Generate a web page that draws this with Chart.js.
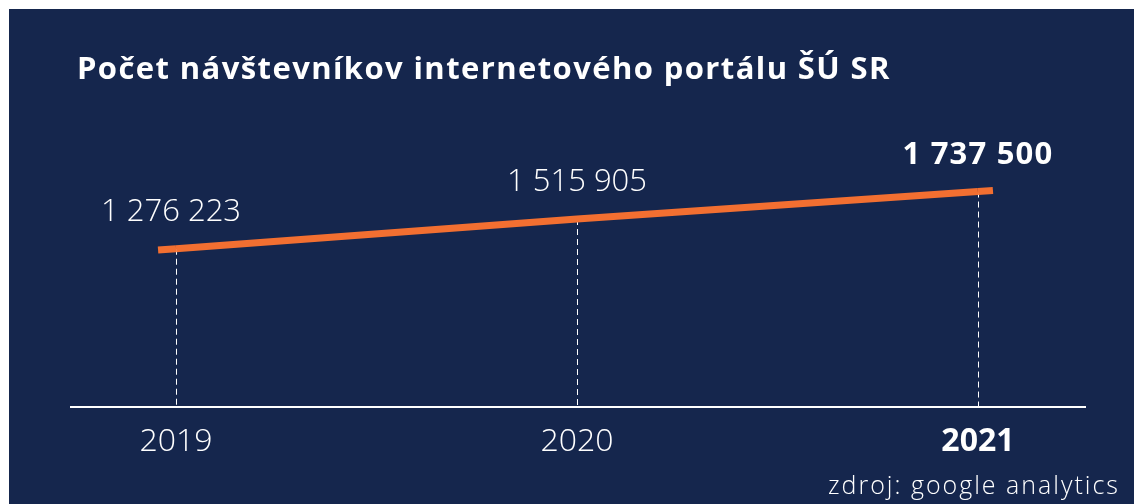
<!DOCTYPE html>
<html>
<head>
<meta charset="utf-8">
<script src="https://cdn.jsdelivr.net/npm/chart.js@4.4.1/dist/chart.umd.min.js"></script>
<style>
  html, body { margin: 0; padding: 0; background: #ffffff; }
  #panel { position: absolute; left: 9px; top: 9px; width: 1125px; height: 495px; background: #15264d; }
  canvas { display: block; }
</style>
</head>
<body>
<div id="panel"><canvas id="visitorsChart" width="1125" height="495"></canvas></div>
<script>
const years = [2019, 2020, 2021];
const visitors = [1276223, 1515905, 1737500];
const titleText = "Počet návštevníkov internetového portálu ŠÚ SR";
const sourceText = "zdroj: google analytics";

const family = "'Open Sans', 'DejaVu Sans', sans-serif";
const orange = "#f26f31";
const lastYear = years[years.length - 1];

// 1276223 -> "1 276 223"
const fmt = v => String(v).replace(/\B(?=(\d{3})+(?!\d))/g, " ");

const extras = {
  id: "extras",
  beforeDatasetsDraw(chart) {
    // dashed drop lines from each point down to the axis
    const ctx = chart.ctx;
    const pts = chart.getDatasetMeta(0).data;
    ctx.save();
    ctx.strokeStyle = "#ffffff";
    ctx.lineWidth = 1;
    ctx.setLineDash([6, 4]);
    pts.forEach(p => {
      const x = Math.round(p.x) + 0.5;
      ctx.beginPath();
      ctx.moveTo(x, p.y);
      ctx.lineTo(x, chart.chartArea.bottom);
      ctx.stroke();
    });
    ctx.restore();
  },
  afterDatasetsDraw(chart) {
    const ctx = chart.ctx;
    const pts = chart.getDatasetMeta(0).data;
    const n = pts.length;

    // the line runs a little past the first and last year
    ctx.save();
    ctx.strokeStyle = orange;
    ctx.lineWidth = 7;
    const ext = (a, b, len) => {
      const k = (b.y - a.y) / (b.x - a.x);
      const dir = b.x > a.x ? -1 : 1;
      ctx.beginPath();
      ctx.moveTo(a.x, a.y);
      ctx.lineTo(a.x + dir * len, a.y + dir * len * k);
      ctx.stroke();
    };
    ext(pts[0], pts[1], 18);
    ext(pts[n - 1], pts[n - 2], 15);
    ctx.restore();

    // value labels
    ctx.save();
    ctx.fillStyle = "#ffffff";
    ctx.textAlign = "center";
    ctx.textBaseline = "alphabetic";
    pts.forEach((p, i) => {
      const bold = years[i] === lastYear;
      ctx.font = (bold ? "bold " : "300 ") + "31px " + family;
      ctx.letterSpacing = bold ? "1.2px" : "0px";
      ctx.fillText(fmt(visitors[i]), p.x - (i === 0 ? 5 : 0), p.y - 28);
    });
    ctx.restore();
  },
  afterDraw(chart) {
    const ctx = chart.ctx;
    ctx.save();
    ctx.fillStyle = "#ffffff";
    ctx.textBaseline = "alphabetic";
    ctx.textAlign = "left";
    ctx.font = "bold 31px " + family;
    ctx.letterSpacing = "1.4px";
    ctx.fillText(titleText, 68, 70);
    ctx.textAlign = "right";
    ctx.font = "300 25px " + family;
    ctx.letterSpacing = "2px";
    ctx.fillText(sourceText, 1111, 485);
    ctx.restore();
  }
};

new Chart(document.getElementById("visitorsChart"), {
  type: "line",
  data: {
    datasets: [{
      data: years.map((y, i) => ({ x: y, y: visitors[i] })),
      borderColor: orange,
      borderWidth: 7,
      borderCapStyle: "butt",
      pointRadius: 0,
      tension: 0,
      clip: false
    }]
  },
  options: {
    responsive: false,
    animation: false,
    layout: { padding: { left: 62, right: 49, top: 150, bottom: 0 } },
    plugins: { legend: { display: false }, tooltip: { enabled: false } },
    scales: {
      x: {
        type: "linear",
        min: 2018.738,
        max: 2021.267,
        afterBuildTicks: scale => { scale.ticks = years.map(v => ({ value: v })); },
        afterFit: scale => { scale.height = 97; },
        grid: { display: false },
        border: { display: true, color: "#ffffff", width: 2 },
        ticks: {
          color: "#ffffff",
          padding: 8,
          maxRotation: 0,
          autoSkip: false,
          callback: v => String(v),
          font: c => ({
            family: family,
            size: 32,
            weight: c.tick && c.tick.value === lastYear ? "bold" : "300"
          })
        }
      },
      y: {
        display: false,
        min: 0,
        max: 2000000
      }
    }
  },
  plugins: [extras]
});
</script>
</body>
</html>
